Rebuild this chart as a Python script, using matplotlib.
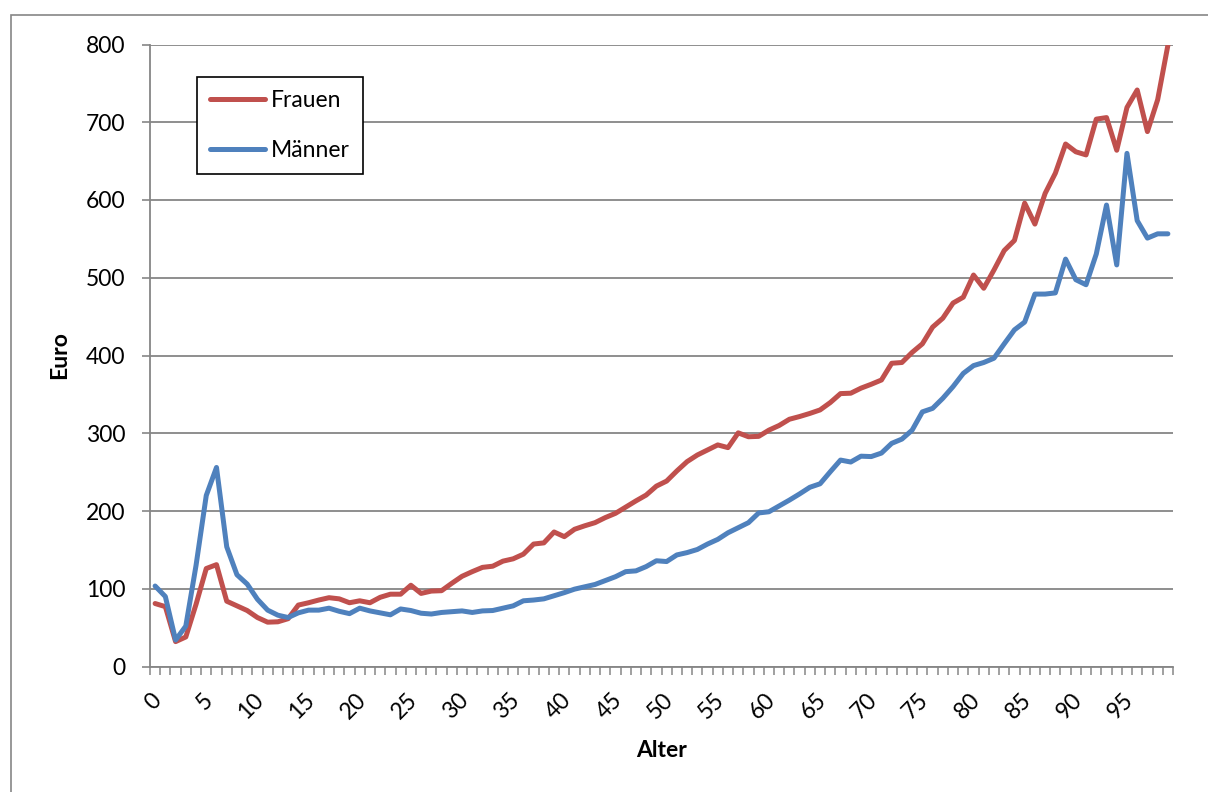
import numpy as np
import matplotlib
matplotlib.use("Agg")
import matplotlib.pyplot as plt
from matplotlib.patches import Rectangle
from matplotlib.ticker import FixedLocator, NullFormatter
from matplotlib.transforms import ScaledTranslation

# Average expenditure per person by age (Euro)
ages = list(range(100))

frauen = [
    81, 77, 32, 38, 80, 126, 131, 84, 78, 72,
    63, 57, 57.5, 61.5, 79, 82, 85.5, 88.5, 87, 82,
    84.5, 82, 89, 93, 93, 104.5, 94, 97, 97.5, 107,
    116, 122, 127.5, 129, 135.5, 138.5, 144.5, 157.5, 159, 173,
    167, 176.5, 181, 185, 191.5, 197, 205, 213, 220.5, 232,
    238.5, 251.5, 263.5, 272, 278.5, 285, 281.5, 300.5, 295.5, 296,
    304, 310, 318, 321.5, 325.5, 330, 339.5, 351, 351.5, 358,
    363, 368.5, 390, 391, 404, 415, 436.5, 448, 467.5, 475,
    503.5, 486.5, 510, 535, 548, 596, 569, 608.5, 634.5, 672,
    662, 658, 704, 706, 664, 719, 741.5, 688, 729, 799,
]

maenner = [
    103.5, 90, 34, 52, 130, 220, 256, 154, 118, 106,
    86.5, 72.5, 66, 63, 69, 72.5, 72.5, 75, 71, 68,
    75, 71.5, 69, 66.5, 74, 72, 68.5, 67.5, 69.5, 70.5,
    71.5, 69.5, 71.5, 72, 75, 78, 84.5, 85.5, 87, 91,
    95, 99.5, 102.5, 105.5, 110.5, 115.5, 122, 123, 128.5, 136,
    135, 143.5, 146.5, 150.5, 157.5, 163.5, 172, 178.5, 185, 197.5,
    199, 206.5, 214, 222, 230.5, 235, 250.5, 265.5, 263, 270.5,
    270, 274.5, 287, 292.5, 304, 327.5, 332, 345, 360, 377,
    387, 391, 396.5, 415, 433, 443, 479, 479, 480.5, 524,
    497.5, 491, 530.5, 593.5, 516.5, 660, 573.5, 551, 556.5, 556.5,
]

series_labels = ["Frauen", "Männer"]
x_ticks = list(range(0, 100, 5))
y_ticks = list(range(0, 801, 100))
x_title = "Alter"
y_title = "Euro"

RED = "#C0504D"
BLUE = "#4F81BD"
GRID = "#868686"
FONT = "Lato"
FS = 16.5

W, H = 1208, 792
fig = plt.figure(figsize=(W / 100, H / 100), dpi=100)

# chart-area border (runs off the right and bottom edges)
fig.add_artist(Rectangle((11 / W, -0.1), 1.2, (1 - 15 / H) + 0.1,
                         transform=fig.transFigure, fill=False,
                         edgecolor=GRID, linewidth=1.2))

ax = fig.add_axes([150 / W, 1 - 666.5 / H, 1023 / W, 622 / H])

l_f, = ax.plot(ages, frauen, color=RED, lw=3.6, solid_joinstyle="round",
               solid_capstyle="round", label=series_labels[0], zorder=3)
l_m, = ax.plot(ages, maenner, color=BLUE, lw=3.6, solid_joinstyle="round",
               solid_capstyle="round", label=series_labels[1], zorder=4)

ax.set_xlim(-0.5, 99.5)
ax.set_ylim(0, 800)

for s in ["top", "right"]:
    ax.spines[s].set_visible(False)
for s in ["left", "bottom"]:
    ax.spines[s].set_color(GRID)
    ax.spines[s].set_linewidth(1.3)

ax.set_axisbelow(True)
ax.yaxis.grid(True, color=GRID, linewidth=1.3)

# y axis
ax.set_yticks(y_ticks)
ax.set_yticklabels([str(v) for v in y_ticks], fontfamily=FONT, fontsize=FS)
ax.tick_params(axis="y", which="major", direction="out", length=5.8,
               width=1.2, color=GRID, pad=12)

# x axis: labels at category centres, tick marks on category boundaries
ax.set_xticks(x_ticks)
ax.set_xticklabels([str(v) for v in x_ticks], fontfamily=FONT, fontsize=FS)
ax.tick_params(axis="x", which="major", length=0, pad=22)
ax.xaxis.set_minor_locator(FixedLocator(np.arange(-0.5, 100, 1)))
ax.xaxis.set_minor_formatter(NullFormatter())
ax.tick_params(axis="x", which="minor", direction="out", length=5.8,
               width=1.1, color=GRID)
shift = ScaledTranslation(3 / 100, 0, fig.dpi_scale_trans)
for lbl in ax.get_xticklabels():
    lbl.set_rotation(45)
    lbl.set_rotation_mode("anchor")
    lbl.set_ha("right")
    lbl.set_va("center")
    lbl.set_transform(lbl.get_transform() + shift)

ax.set_xlabel(x_title, fontfamily=FONT, fontsize=FS, fontweight="bold")
ax.set_ylabel(y_title, fontfamily=FONT, fontsize=FS, fontweight="bold")
ax.xaxis.set_label_coords(0.5, -0.118)
ax.yaxis.set_label_coords(-0.078, 0.5)

leg = ax.legend(handles=[l_f, l_m], loc="upper left",
                bbox_to_anchor=(196.7 / W, 1 - 76.7 / H),
                bbox_transform=fig.transFigure, borderaxespad=0,
                frameon=True, fancybox=False, edgecolor="black",
                framealpha=1, handlelength=2.4, handletextpad=0.25,
                borderpad=0.58, labelspacing=1.27,
                prop={"family": FONT, "size": FS})
leg.get_frame().set_linewidth(1.2)

fig.savefig("out.png", dpi=100)
